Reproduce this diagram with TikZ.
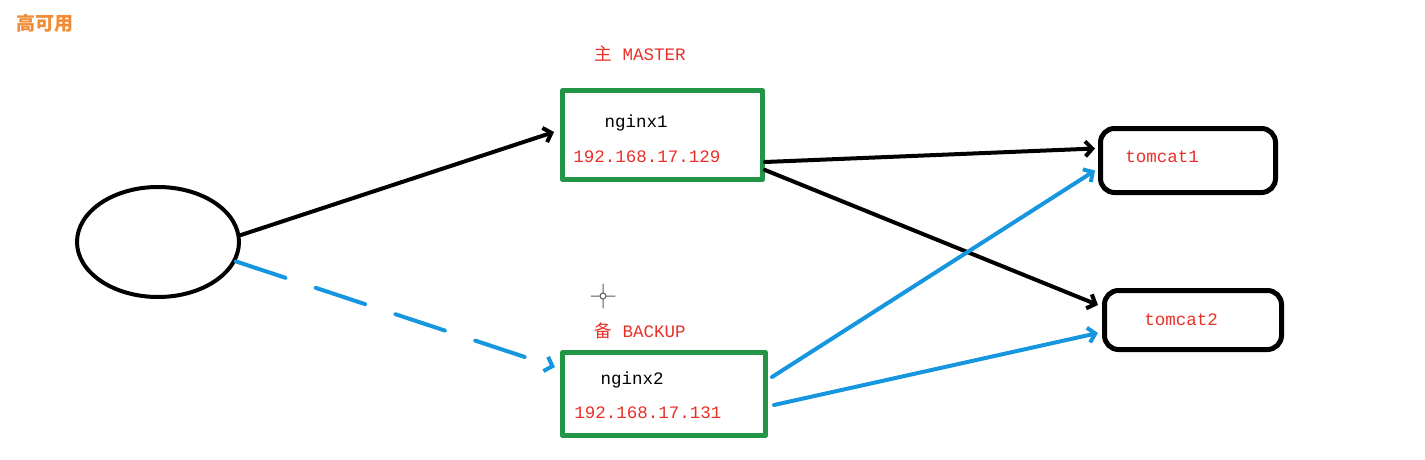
\documentclass[tikz,border=0pt]{standalone}
\usepackage{fontspec}
\setmonofont{Liberation Mono}
\newfontfamily\cjk{Noto Sans CJK SC}
\usetikzlibrary{arrows.meta,shapes.geometric}
\definecolor{boxgreen}{RGB}{34,150,70}
\definecolor{lblred}{RGB}{232,48,40}
\definecolor{linkblue}{RGB}{22,150,222}
\definecolor{titleorange}{RGB}{242,140,52}
\tikzset{
  host/.style={draw=boxgreen,line width=5pt,minimum width=200pt,minimum height=88pt},
  app/.style={draw,line width=5pt,rounded corners=14pt,minimum width=176pt,minimum height=62pt},
  txt/.style={font=\ttfamily\fontsize{17.5}{18}\selectfont,inner sep=0pt},
  link/.style={->,line width=4pt}
}
\begin{document}
\begin{tikzpicture}[x=1pt,y=-1pt,>={Straight Barb[length=7pt,width=15pt]}, line join=round, line cap=round]
  \useasboundingbox (0,0) rectangle (1425,460);
  \node[font=\cjk\fontsize{19}{19}\selectfont\bfseries,text=titleorange] (title) at (45,23) {高可用};
  % boxes
  \node[ellipse,draw,line width=4pt,minimum width=162pt,minimum height=110pt] (client) at (158,242) {};
  \node[host,minimum width=200pt,minimum height=89pt] (master) at (662.5,135) {};
  \node[host,minimum width=203pt,minimum height=83pt] (backup) at (664,394) {};
  \node[app,minimum width=175pt,minimum height=64pt] (tc1) at (1188,160.5) {};
  \node[app,minimum width=177pt,minimum height=59pt] (tc2) at (1193,320) {};
  % labels
  \node[txt,text=lblred] (mlbl) at (640,54) {{\cjk 主} MASTER};
  \node[txt,text=lblred] (blbl) at (640,331) {{\cjk 备} BACKUP};
  \node[txt] (n1) at (636,123) {nginx1};
  \node[txt,text=lblred] (ip1) at (647,157) {192.168.17.129};
  \node[txt] (n2) at (632,380) {nginx2};
  \node[txt,text=lblred] (ip2) at (648,413) {192.168.17.131};
  \node[txt,text=lblred] (t1) at (1162,157) {tomcat1};
  \node[txt,text=lblred] (t2) at (1181,320) {tomcat2};
  % links
  \draw[link] ([yshift=7pt]client.east) -- ([yshift=3pt,xshift=-6pt]master.west);
  \draw[link,linkblue,dash pattern=on 52pt off 32pt] (client.-14) -- ([yshift=27pt,xshift=-5pt]backup.west);
  \draw[link] ([yshift=-27pt]master.east) -- ([yshift=12pt,xshift=-3pt]tc1.west);
  \draw[link] ([yshift=-35pt]master.east) -- ([yshift=15pt,xshift=-4pt]tc2.west);
  \draw[link,linkblue] ([yshift=17pt,xshift=4pt]backup.east) -- ([yshift=-10pt,xshift=-3pt]tc1.west);
  \draw[link,linkblue] ([yshift=-11pt,xshift=6pt]backup.east) -- ([yshift=-13pt,xshift=-4pt]tc2.west);
  % cursor
  \draw[gray!70!black,line width=1pt] (603,296) circle (3pt) (591,296) -- (600,296) (606,296) -- (615,296) (603,284) -- (603,293) (603,299) -- (603,308);
\end{tikzpicture}
\end{document}
